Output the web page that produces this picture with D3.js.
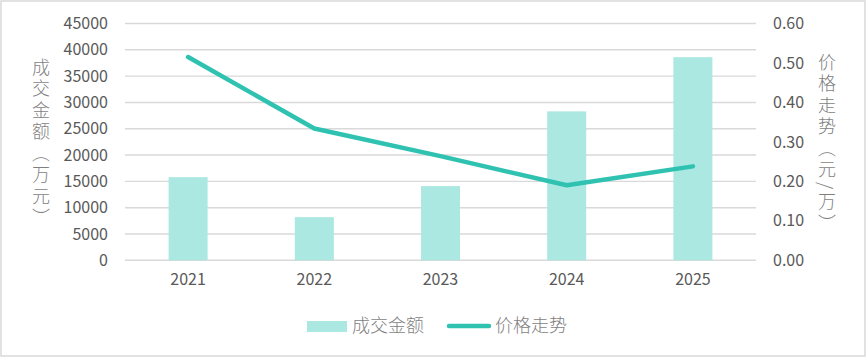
<!DOCTYPE html>
<html><head><meta charset="utf-8">
<script src="https://cdn.jsdelivr.net/npm/d3@7"></script>
<style>body{margin:0;background:#fff}</style>
</head><body><svg id="c" width="867" height="358"></svg>
<script>
const years = ["2021","2022","2023","2024","2025"];
const amount = [15800, 8200, 14100, 28300, 38600];
const price = [0.515, 0.334, 0.264, 0.19, 0.238];
const leftTicks = [0,5000,10000,15000,20000,25000,30000,35000,40000,45000];
const rightTicks = [0,0.1,0.2,0.3,0.4,0.5,0.6];
const leftTitle = "成交金额（万元）";
const rightTitle = "价格走势（元/万）";
const legendNames = ["成交金额","价格走势"];

const svg = d3.select("#c");
const font = "'Noto Sans CJK SC','Noto Sans',sans-serif";
const barColor = "#AAE8E1", lineColor = "#2FC2B1", grid = "#D9D9D9";

svg.append("rect").attr("x",1).attr("y",1).attr("width",864).attr("height",355)
  .attr("fill","#fff").attr("stroke",grid).attr("stroke-width",1.5);

const x = d3.scaleBand().domain(years).range([125,756]);
const yL = d3.scaleLinear().domain([0,45000]).range([260.3,23.5]);
const yR = d3.scaleLinear().domain([0,0.6]).range([260.3,23.5]);

// gridlines
svg.append("g").selectAll("line").data(leftTicks).join("line")
  .attr("x1",125).attr("x2",756).attr("y1",d=>yL(d)).attr("y2",d=>yL(d))
  .attr("stroke",grid).attr("stroke-width",1.4);

// left axis
const gl = svg.append("g").attr("transform","translate(108,0)")
  .call(d3.axisLeft(yL).tickValues(leftTicks).tickSize(0).tickPadding(0).tickFormat(d3.format("d")));
gl.select(".domain").remove();
gl.selectAll("text").attr("font-family",font).attr("font-size",16).attr("fill","#595959");

// right axis
const gr = svg.append("g").attr("transform","translate(773,0)")
  .call(d3.axisRight(yR).tickValues(rightTicks).tickSize(0).tickPadding(0).tickFormat(d3.format(".2f")));
gr.select(".domain").remove();
gr.selectAll("text").attr("font-family",font).attr("font-size",16).attr("fill","#595959");

// x axis
const gx = svg.append("g").attr("transform","translate(0,270)")
  .call(d3.axisBottom(x).tickSize(0).tickPadding(4));
gx.select(".domain").remove();
gx.selectAll("text").attr("font-family",font).attr("font-size",16).attr("fill","#595959");

// bars
const bw = 39;
svg.append("g").selectAll("rect").data(years).join("rect")
  .attr("x",(d)=>x(d)+x.bandwidth()/2-bw/2).attr("width",bw)
  .attr("y",(d,i)=>yL(amount[i])).attr("height",(d,i)=>yL(0)-yL(amount[i]))
  .attr("fill",barColor);

// line
const line = d3.line().x((d,i)=>x(years[i])+x.bandwidth()/2).y(d=>yR(d));
svg.append("path").datum(price).attr("d",line).attr("fill","none")
  .attr("stroke",lineColor).attr("stroke-width",4.5)
  .attr("stroke-linecap","round").attr("stroke-linejoin","round");

// axis titles
svg.append("text").text(leftTitle).attr("x",41).attr("y",58)
  .attr("font-family",font).attr("font-size",18).attr("font-weight",300)
  .attr("fill","#7F7F7F").style("writing-mode","vertical-rl").style("letter-spacing","3.5px");
svg.append("text").text(rightTitle).attr("x",827).attr("y",53)
  .attr("font-family",font).attr("font-size",18).attr("font-weight",300)
  .attr("fill","#7F7F7F").style("writing-mode","vertical-rl").style("letter-spacing","3.5px");

// legend
const lg = svg.append("g");
lg.append("rect").attr("x",307).attr("y",321).attr("width",40).attr("height",11).attr("fill",barColor);
lg.append("text").text(legendNames[0]).attr("x",352).attr("y",332)
  .attr("font-family",font).attr("font-size",18).attr("font-weight",300).attr("fill","#7F7F7F");
lg.append("line").attr("x1",449).attr("x2",489).attr("y1",326).attr("y2",326)
  .attr("stroke",lineColor).attr("stroke-width",4.5).attr("stroke-linecap","round");
lg.append("text").text(legendNames[1]).attr("x",495).attr("y",332)
  .attr("font-family",font).attr("font-size",18).attr("font-weight",300).attr("fill","#7F7F7F");
</script></body></html>
